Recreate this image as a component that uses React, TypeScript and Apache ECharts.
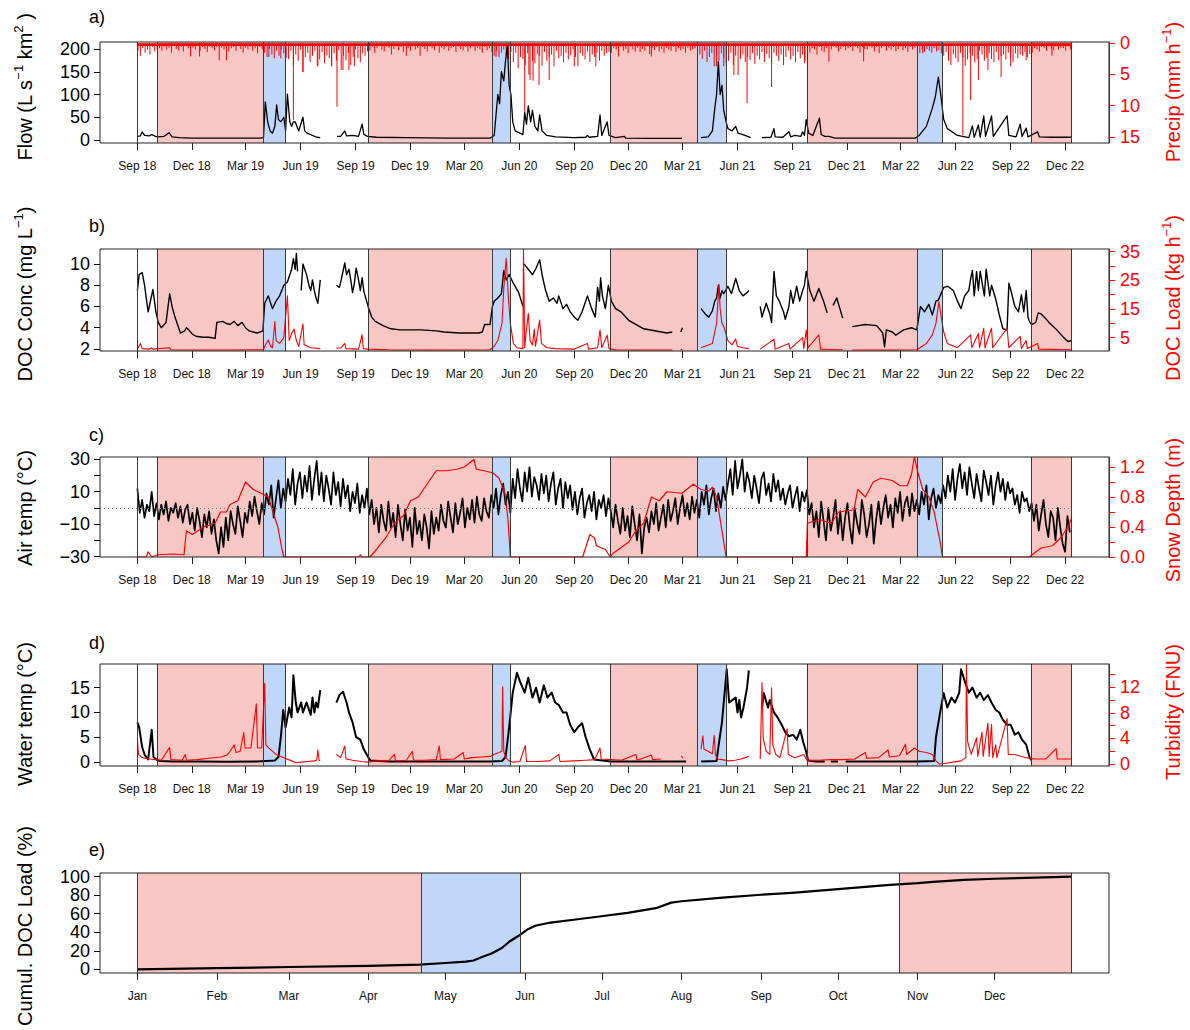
import React, { useEffect, useRef } from 'react';
import * as echarts from 'echarts';

const FONT = '"Liberation Sans", Arial, Helvetica, sans-serif';
const BLACK = '#000000';
const RED = '#ff0000';
const PINK = '#f8c6c3';
const BLUE = '#c1d7fa';
const EDGE = '#3a3a3a';

// ---------- time axis (panels a–d): day offsets from ORIGIN ----------
const ORIGIN = '2018-09-01';
const xTickDates = ['2018-09-01', '2018-12-01', '2019-03-01', '2019-06-01', '2019-09-01', '2019-12-01', '2020-03-01', '2020-06-01', '2020-09-01', '2020-12-01', '2021-03-01', '2021-06-01', '2021-09-01', '2021-12-01', '2022-03-01', '2022-06-01', '2022-09-01', '2022-12-01'];
const xTickLabels = ['Sep 18', 'Dec 18', 'Mar 19', 'Jun 19', 'Sep 19', 'Dec 19', 'Mar 20', 'Jun 20', 'Sep 20', 'Dec 20', 'Mar 21', 'Jun 21', 'Sep 21', 'Dec 21', 'Mar 22', 'Jun 22', 'Sep 22', 'Dec 22'];

const seasonBreaks = ['2018-09-01', '2018-10-05', '2019-03-31', '2019-05-06', '2019-09-23', '2020-04-16', '2020-05-17', '2020-10-31', '2021-03-26', '2021-05-13', '2021-09-25', '2022-03-29', '2022-05-10', '2022-10-05', '2022-12-12'];
const winterPeriods = [['2018-10-05', '2019-03-31'], ['2019-09-23', '2020-04-16'], ['2020-10-31', '2021-03-26'], ['2021-09-25', '2022-03-29'], ['2022-10-05', '2022-12-12']];
const meltPeriods = [['2019-03-31', '2019-05-06'], ['2020-04-16', '2020-05-17'], ['2021-03-26', '2021-05-13'], ['2022-03-29', '2022-05-10']];

// ---------- panel a ----------
const flow = [[0, 8], [5, 9], [8, 18], [12, 10], [20, 9], [24, 12], [30, 8], [34, 7], [45, 8], [53, 16], [58, 7], [70, 5], [91, 4], [150, 4], [206, 4], [211, 5], [214, 84], [218, 40], [222, 20], [226, 15], [230, 30], [233, 77], [236, 45], [240, 40], [245, 50], [248, 20], [251, 101], [255, 40], [258, 30], [261, 40], [264, 40], [270, 20], [277, 50], [280, 20], [284, 15], [290, 12], [300, 6], [306, 5], [320, null], [334, 8], [340, 8], [347, 20], [350, 9], [360, 10], [370, 8], [376, 35], [379, 12], [385, 8], [400, 6], [450, 5], [520, 4], [590, 4], [597, 10], [603, 100], [606, 80], [609, 150], [613, 130], [616, 175], [619, 207], [622, 120], [625, 100], [628, 40], [632, 20], [640, 15], [645, 12], [648, 60], [651, 35], [654, 75], [658, 40], [661, 65], [665, 30], [670, 20], [673, 55], [677, 20], [685, 10], [700, 7], [731, 5], [750, 6], [753, 10], [756, 6], [770, 8], [774, 55], [777, 10], [786, 40], [789, 10], [800, 5], [815, 8], [817, 4], [860, 3.5], [911, 3.5], [925, null], [943, 5], [955, 7], [962, 20], [966, 70], [969, 100], [972, 172], [975, 100], [978, 120], [981, 65], [985, 40], [988, 25], [995, 20], [1001, 30], [1005, 15], [1013, 12], [1026, 5], [1035, null], [1045, 5], [1060, 6], [1065, 25], [1067, 7], [1080, 6], [1090, 18], [1093, 7], [1100, 10], [1110, 8], [1113, 18], [1116, 10], [1119, 45], [1123, 15], [1130, 10], [1141, 48], [1144, 12], [1150, 8], [1157, 8], [1167, 4], [1250, 4], [1301, 4], [1308, 10], [1320, 30], [1330, 70], [1335, 95], [1340, 138], [1344, 100], [1349, 45], [1355, 25], [1372, 10], [1391, 5], [1397, 31], [1400, 6], [1407, 33], [1410, 6], [1416, 53], [1419, 8], [1429, 53], [1432, 8], [1455, 53], [1458, 10], [1470, 7], [1477, 35], [1480, 8], [1487, 26], [1490, 7], [1506, 18], [1509, 7], [1530, 6], [1563, 6]];

// background precipitation, one value every PRECIP_STEP days from day 0
const PRECIP_STEP = 4;
const precipBackground = [
  1.2, 2.0, 0.8, 1.5, 1.0, 1.8, 0.6, 1.3, 0.9,
  0.8, 1.2, 0.5, 1.0, 0.7, 1.5, 0.4, 0.9, 1.1, 0.6, 1.3, 0.5, 0.8, 2.1, 0.7, 1.0, 0.4, 1.2, 0.6, 0.9, 1.4, 0.5, 0.8, 1.1, 0.6, 2.7, 0.7, 1.0, 0.5, 1.3, 0.8, 0.6, 1.2, 0.4, 0.9, 1.5, 0.7, 1.0, 0.5, 1.2, 0.8, 1.6, 0.6, 1.0,
  1.5, 2.2, 0.9, 1.8, 2.4, 1.2, 2.0, 1.0, 1.6, 2.3,
  2.5, 1.2, 3.5, 1.8, 2.8, 1.0, 4.6, 2.2, 1.5, 3.0, 2.0, 1.2, 3.7, 2.6, 1.4, 3.2, 1.9, 2.4, 3.7, 1.6, 2.8, 1.1, 4.3, 2.0, 2.7, 1.5, 3.5, 2.2, 1.0, 2.4, 3.0, 1.6, 2.0, 1.3,
  1.2, 0.6, 1.5, 0.8, 0.4, 1.0, 1.3, 0.5, 0.7, 1.8, 0.9, 0.5, 1.1, 0.6, 1.4, 0.4, 0.8, 1.2, 0.5, 1.0, 0.7, 2.0, 0.6, 0.9, 1.3, 0.5, 0.8, 1.1, 0.4, 1.5, 0.7, 1.0, 0.5, 1.2, 0.8, 0.6, 1.4, 0.5, 0.9, 1.1, 0.6, 1.3, 0.8, 0.5, 1.2, 0.7, 1.0, 1.5, 0.6, 1.1, 0.8, 1.4,
  2.0, 1.2, 2.2, 1.5, 1.0, 1.8, 2.5, 1.4,
  3.0, 1.5, 4.0, 2.2, 2.5, 3.5, 1.6, 5.9, 2.8, 3.2, 1.8, 2.0, 3.6, 1.4, 2.8, 2.2, 1.8, 3.7, 1.2, 2.4, 2.0, 3.0, 1.5, 2.6, 1.9, 1.0, 2.2, 3.7, 1.6, 2.0, 2.6, 1.3, 3.0, 1.8, 2.2, 1.5, 2.8, 1.2, 2.0, 1.6, 1.4,
  1.5, 0.8, 1.0, 2.1, 0.6, 1.2, 0.9, 1.6, 0.5, 1.0, 1.3, 0.7, 1.4, 0.9, 1.2, 0.5, 1.7, 0.8, 1.1, 0.6, 1.3, 0.9, 1.5, 0.7, 1.0, 1.2, 0.6, 1.4, 0.8, 1.1, 0.9, 1.5, 0.7, 1.2, 1.0, 0.8, 1.3,
  1.8, 2.5, 1.2, 3.0, 2.2, 1.5, 3.7, 2.0, 2.8, 1.6, 2.4, 3.2,
  2.8, 1.5, 3.5, 2.0, 5.1, 2.5, 1.8, 3.0, 2.2, 2.7, 1.6, 3.3, 2.0, 2.6, 1.4, 3.0, 1.7, 2.4, 3.2, 1.5, 2.0, 2.8, 1.8, 3.5, 2.2, 1.2, 2.6, 2.0, 3.0, 1.4, 2.4, 1.8, 2.8, 3.2,
  1.5, 0.8, 1.0, 1.8, 0.6, 1.2, 1.4, 0.7, 2.9, 1.0, 0.5, 0.7, 1.3, 0.9, 0.6, 1.1, 0.8, 0.6, 1.2, 0.5, 0.8, 1.5, 0.6, 0.9, 1.0, 0.5, 0.7, 1.3, 0.6, 1.6, 0.8, 0.5, 1.2, 0.7, 1.0, 0.6, 1.3, 0.9, 0.5, 1.1, 0.8, 1.4, 0.6, 1.0, 0.7, 1.2,
  1.6, 1.0, 1.4, 0.9, 1.2, 1.5, 0.8, 1.3, 1.1, 1.6,
  2.0, 1.4, 2.8, 3.5, 1.8, 2.4, 3.0, 1.5, 2.2, 3.6, 2.6, 1.6, 2.0, 3.1, 2.5, 1.2, 1.8, 2.8, 2.3, 1.6, 2.5, 3.0, 1.4, 2.7, 2.0, 1.8, 2.6, 1.5, 2.2, 3.0, 1.6, 2.4, 1.8, 2.0, 1.4, 2.2, 1.7,
  1.5, 0.8, 1.0, 1.3, 0.6, 0.8, 1.2, 0.5, 0.9, 1.1, 0.6, 1.0, 0.7, 0.8, 1.2, 0.5, 1.0];
const precipPeaks = [[104, 2.1], [149, 2.7], [220, 2.2], [240, 2.4], [261, 12.3], [277, 4.6], [302, 3.7], [325, 3.7], [334, 10.2], [344, 4.3], [354, 4.3], [363, 3.7], [450, 2.0], [600, 2.2], [648, 11.8], [655, 5.0], [662, 6.0], [672, 6.7], [689, 5.9], [731, 3.7], [767, 3.7], [860, 2.1], [969, 3.7], [981, 3.7], [998, 5.1], [1020, 9.6], [1061, 7.0], [1116, 3.2], [1215, 2.9], [1314, 1.6], [1381, 14.7], [1394, 9.1], [1407, 5.9], [1423, 4.3], [1445, 5.4], [1461, 3.7], [1487, 2.7], [1530, 2.0]];

// ---------- panel b ----------
const docConc = [[0, 7.5], [3, 9.0], [8, 9.2], [12, 8.0], [18, 5.5], [26, 7.6], [31, 5.5], [35, 4.5], [40, 4.0], [48, 4.5], [54, 7.2], [58, 6.0], [63, 5.0], [69, 4.0], [72, 3.5], [79, 3.7], [82, 4.0], [86, 3.8], [92, 3.4], [98, 3.2], [110, 3.1], [120, 3.1], [130, 3.0], [133, 4.5], [143, 4.6], [149, 4.4], [155, 4.3], [162, 4.6], [168, 4.2], [175, 4.5], [181, 4.0], [187, 3.7], [200, 3.5], [210, 3.7], [213, 6.3], [219, 7.0], [226, 5.8], [232, 6.5], [238, 7.0], [245, 8.0], [251, 8.3], [258, 9.5], [261, 10.5], [264, 9.5], [266, 11.0], [268, 9.3], [271, null], [274, 7.5], [277, 10], [283, 9], [287, 8], [290, 7.5], [293, 8.5], [296, 7.5], [299, 6.8], [302, 6.3], [306, 8.5], [320, null],
  [333, 8], [338, 7.8], [341, 8.5], [347, 10.1], [350, 9], [354, 9.5], [357, 8.5], [360, 7.3], [363, 8.2], [366, 9.6], [370, 8.5], [373, 7.5], [376, 8.7], [379, 7.4], [383, 6.6], [387, 5.8], [392, 5.0], [398, 4.6], [411, 4.2], [424, 3.9], [440, 3.8], [475, 3.8], [500, 3.7], [513, 3.6], [539, 3.5], [571, 3.5], [577, 3.6], [581, 4.3], [590, 4.3], [594, 6.0], [597, 6.5], [603, 6.8], [609, 7.2], [613, 9.4], [617, 8.5], [622, 9], [628, 8.3], [638, 7.3], [645, 6.0], [646, null], [647, 10], [654, 9.5], [661, 9], [667, 9.6], [673, 10.4], [677, 9], [683, 7.5], [689, 6.5], [696, 6.8], [702, 6.3], [705, 7], [712, 5.8], [718, 6.2], [724, 5.5], [731, 5.0], [737, 4.7], [744, 5.5], [750, 6.5], [753, 7.0], [760, 5.8], [766, 5.0], [770, 7.8], [773, 6.5], [775, 8.7], [778, 7], [783, 5.8], [788, 8.0], [793, 6.5], [800, 5.8], [809, 5.5], [822, 4.7], [847, 3.9], [886, 3.5], [895, 3.6], [900, null], [909, 3.6], [912, 4.0], [920, null],
  [943, 5.8], [950, 5.3], [956, 5.0], [962, 5.6], [966, 6.5], [969, 6.8], [972, 8.0], [975, 6.8], [978, 7.5], [981, 7.2], [988, 7.9], [994, 7.2], [1001, 8.65], [1007, 7.5], [1013, 7.0], [1020, 7.3], [1023, 7.5], [1030, null],
  [1042, 6], [1045, 5], [1052, 6.3], [1058, 5.3], [1061, 4.5], [1065, 9.3], [1069, 7], [1074, 6.5], [1081, 5.5], [1084, 4.8], [1090, 6], [1093, 7.5], [1097, 6.3], [1103, 7.9], [1108, 6.5], [1113, 7.5], [1116, 8], [1119, 9.3], [1125, 7.5], [1132, 6.5], [1140, 7.7], [1148, 6.5], [1154, 5.4], [1158, null], [1164, 6.1], [1170, 6.8], [1180, 4.9], [1188, null],
  [1196, 4.1], [1218, 4.3], [1237, 4.2], [1247, 3.5], [1250, 2.2], [1253, 3.8], [1263, 3.6], [1269, 3.3], [1282, 3.8], [1295, 4.0], [1304, 3.8], [1310, 6], [1317, 5.5], [1324, 6.2], [1330, 5.2], [1336, 6.5], [1340, 6.6], [1346, 7.4], [1349, 7.8], [1356, 7.9], [1365, 7.5], [1372, 6.5], [1378, 5.8], [1384, 7.0], [1391, 7.5], [1394, 8.6], [1397, 9.4], [1400, 7], [1404, 9.3], [1407, 7.5], [1410, 9.3], [1417, 7.0], [1420, 9.5], [1426, 7], [1429, 8.0], [1436, 6.7], [1442, 5.2], [1448, 3.9], [1455, 3.8], [1458, 8.2], [1461, 7.6], [1468, 6.0], [1474, 5.5], [1479, 7.1], [1483, 5.5], [1487, 7.5], [1490, 5], [1493, 4.5], [1496, 4.3], [1503, 4.5], [1507, 5.4], [1512, 5.3], [1519, 4.9], [1525, 4.5], [1538, 3.8], [1551, 3.0], [1557, 2.7], [1563, 2.8]];

const docLoad = [[0, 1.0], [5, 3.0], [8, 1.2], [20, 1.0], [24, 1.5], [26, 1.0], [54, 1.5], [56, 0.8], [100, 0.7], [150, 0.7], [211, 0.8], [213, 2], [219, 4.2], [223, 2], [226, 1.5], [230, 10.6], [232, 4], [238, 3], [245, 5], [251, 19.6], [254, 4], [258, 6.5], [262, 8], [266, 4], [270, 2], [277, 9.8], [279, 2.5], [290, 1.5], [306, 1.2], [320, null], [333, 1.3], [341, 1.5], [347, 3], [349, 1.2], [370, 1.0], [376, 6], [378, 1.2], [387, 1.0], [420, 0.8], [500, 0.7], [590, 0.8], [597, 2], [603, 4], [610, 10], [613, 22.2], [617, 32.7], [621, 18], [624, 10], [629, 3], [635, 1.5], [645, 1.2], [646, 35.8], [648, 1.5], [650, 6], [654, 13.5], [657, 4], [661, 2.5], [664, 8], [666, 2], [673, 11.2], [676, 3], [685, 1.5], [700, 1.2], [730, 1.0], [753, 3], [755, 1], [770, 1.5], [774, 7.7], [777, 1.5], [786, 5.9], [789, 1.2], [800, 0.8], [850, 0.7], [895, 0.7], [900, null], [909, 0.8], [912, 0.9], [920, null], [943, 1.5], [962, 3], [969, 10], [973, 23.6], [975, 15], [978, 10], [981, 9], [988, 4], [995, 2.5], [1001, 4.5], [1004, 2], [1013, 1.5], [1023, 1.2], [1030, null], [1042, 1.0], [1065, 4.5], [1067, 1.0], [1090, 3], [1092, 1.0], [1113, 5], [1115, 1.2], [1119, 7.7], [1122, 1.5], [1140, 6], [1143, 1.0], [1160, 0.9], [1180, 0.8], [1188, null], [1196, 0.7], [1250, 0.7], [1304, 0.8], [1320, 3], [1330, 6], [1336, 10], [1341, 17.6], [1345, 12], [1349, 7], [1355, 3], [1372, 1.5], [1394, 6], [1396, 1.5], [1407, 6.5], [1409, 1.5], [1416, 8.3], [1418, 1.5], [1429, 8.3], [1431, 1.5], [1455, 8.3], [1458, 1.5], [1477, 5.5], [1479, 1.2], [1487, 4], [1489, 1.2], [1506, 3], [1508, 1.0], [1563, 0.8]];

// ---------- panel c ----------
// air temperature readings every AIR_STEP days from day 0
const AIR_STEP = 4;
const airTemp = [
  12, -3, 5, -6, 2, -2, 10, -5, 3,
  -7, 2, -4, 4, -8, 0, -3, 3, -6, 1, -9, -1, 2, -10, -3,
  -14, 0, -8, -18, -4, -12, -2, -16, -7,
  -20, -28, -12, -24,
  -6, -20, -2, -10, -16, 1, -8, -18, -3,
  -9, 4, -5, 7, -2, -10, 3,
  -4, 9, 2, 14, -6, 6, 17, 0, 12,
  4, 18, 8, 24, 2, 15, 22, 6, 20,
  10, 26, 5, 18, 29, 8, 22,
  4, 20, 12, 2, 22, 8, 16, 1, 18,
  6, 14, -2, 10, 3, 15, -3, 8, 0, 12,
  -4, 5, -10, 0, -15, 2, -8, -14, 4, -12,
  -3, -18, 2, -10, -20, -1, -14, -6, -24, 0, -16, -8,
  -20, -4, -12, -25, -2, -16, -6,
  -14, 2, -8, -12, 4, -6, -15, 3, -10, -3, 6, -12, 0, -7, 5, -9, 7, -4, -8, 6, -2, -6, 8,
  0, 12, -4, 8, 15, 2, 10, -3,
  18, 6, 24, 12, 4, 22, 10, 25, 7, 19, 14, 5, 21, 9,
  20, 4, 15, 22, 2, 12, 18, 0, 16, 6, 14, -1,
  10, -4, 6, 12, -6, 3, 8, -2, 10, -7, 5, 0, 8, -5, 6,
  -2, -12, 2, -8, -16, 0, -14, -5, -18, 1, -10, -20, -4, -28, -12, -6,
  -15, -2, -10, 3, -14, -6, 2, -12, 5, -8, -2, 6, -10, 0, 8, -5, 3, -7, 7, -3, 5,
  -6, 10, 2, 14, -4, 6, 12, -2, 9, 0, 13, 5,
  15, 24, 8, 29, 12, 20, 30, 10, 22, 16,
  6, 20, 12, 3, 18, 22, 8, 15, 4, 21, 10, 17, 5,
  12, 2, 9, 14, 0, 7, 13, -2, 10, 4, 11,
  -4, 3, -12, -2, -18, 4, -8, -20, 0, -14, -6, 5, -16,
  -2, -20, -6, 3, -12, -22, 0, -9, -16, 5, -4, -18, -10, 2, -22, -7,
  4, -10, 0, 8, -6, 2, -12, 6, -3, 10, -8, 3, 7, -5, 9, -2, 5,
  -4, 10, 2, 14, -7, 6, 12, 0, 8, 3,
  14, 6, 20, 10, 24, 5, 18, 27, 12, 22, 8, 25, 15,
  6, 21, 12, 4, 23, 16, 8, 20, 2, 14, 22, 10, 18, 5, 16, 9,
  12, 2, 8, -3, 10, 4, 6, -2,
  3, -8, 2, -14, -4, 5, -10, -18, -2, -6, -20, 0, -12, -22, -27, -5, -15];
const snowDepth = [[0, 0], [15, 0], [18, 0.07], [24, 0], [34, 0.03], [60, 0.04], [78, 0.03], [82, 0.35], [92, 0.3], [111, 0.4], [130, 0.45], [139, 0.6], [149, 0.6], [155, 0.7], [168, 0.75], [181, 1.0], [194, 0.9], [207, 0.85], [219, 0.8], [229, 0.55], [235, 0.4], [242, 0.1], [245, 0], [370, 0], [373, 0.03], [376, 0], [389, 0], [400, 0.1], [415, 0.25], [430, 0.45], [445, 0.55], [457, 0.75], [470, 0.8], [487, 1.0], [500, 1.15], [517, 1.15], [535, 1.17], [547, 1.2], [563, 1.3], [567, 1.17], [580, 1.15], [595, 1.12], [605, 1.05], [615, 0.85], [620, 0.5], [624, 0], [745, 0], [757, 0.3], [765, 0.25], [768, 0.15], [783, 0.1], [791, 0], [796, 0.05], [822, 0.2], [834, 0.35], [847, 0.45], [860, 0.8], [873, 0.75], [886, 0.87], [911, 0.85], [930, 0.97], [943, 0.9], [956, 0.88], [962, 0.93], [969, 0.8], [978, 0.35], [983, 0.1], [985, 0], [1119, 0], [1121, 0.45], [1141, 0.5], [1161, 0.45], [1173, 0.6], [1199, 0.63], [1205, 0.9], [1218, 0.8], [1231, 1.0], [1244, 1.05], [1263, 1.02], [1276, 0.95], [1288, 0.95], [1295, 1.1], [1300, 1.33], [1305, 1.15], [1314, 0.9], [1324, 0.8], [1333, 0.6], [1343, 0.2], [1347, 0], [1493, 0], [1500, 0.05], [1512, 0.12], [1531, 0.15], [1544, 0.25], [1557, 0.4], [1563, 0.52]];

// ---------- panel d ----------
const waterTemp = [[0, 8], [3, 7], [8, 3], [12, 1.5], [18, 0.5], [24, 6.5], [27, 1], [34, 0.3], [40, 0.2], [60, 0.1], [100, 0.1], [150, 0.05], [200, 0.1], [230, 0.3], [236, 1], [240, 5], [244, 10.5], [248, 7], [254, 11], [258, 9], [261, 17.5], [265, 12], [268, 10], [274, 12], [277, 10], [283, 12], [290, 9.5], [293, 13], [296, 10], [299, 12], [302, 11], [306, 14.5], [320, null],
  [333, 12], [338, 13.5], [344, 14.2], [350, 12], [354, 10], [360, 8], [366, 5], [373, 4.5], [379, 2.5], [386, 1], [390, 0.3], [420, 0.1], [590, 0.1], [610, 0.2], [616, 1], [622, 7], [628, 14], [635, 18], [641, 16], [648, 14], [654, 17], [661, 13], [667, 15], [673, 12], [680, 15.5], [686, 13], [693, 14], [699, 12], [705, 11.5], [712, 10], [718, 10], [724, 7.5], [731, 6], [737, 7], [744, 7.8], [750, 5], [757, 2.5], [764, 0.5], [792, 0.1], [918, 0.1], [930, null], [943, 0.1], [969, 0.2], [972, 3], [978, 8], [981, 12], [986, 18.7], [990, 12], [1001, 13], [1004, 10], [1007, 12.5], [1010, 9], [1014, 11], [1017, 13], [1020, 15], [1023, 18.5], [1030, null],
  [1045, 11], [1048, 13.9], [1055, 11], [1058, 12.5], [1065, 10], [1071, 9], [1078, 7.5], [1084, 6], [1090, 5.2], [1097, 5.5], [1103, 4.5], [1109, 6.5], [1114, 4], [1119, 2], [1122, 0.3], [1135, 0.1], [1150, 0.1], [1153, null], [1160, 0.1], [1172, 0.1], [1175, null], [1185, 0.1], [1305, 0.1], [1333, 0.2], [1336, 5], [1343, 10], [1349, 13.9], [1355, 11], [1362, 13], [1368, 12], [1375, 14], [1378, 18.7], [1385, 16], [1391, 14], [1397, 15], [1404, 13], [1410, 14], [1416, 12.5], [1423, 13.5], [1429, 12], [1436, 10.5], [1442, 10], [1448, 8.5], [1455, 7.5], [1461, 7.5], [1468, 5.5], [1474, 6], [1480, 4.5], [1487, 3.5], [1493, 0.8], [1496, 0.3]];

const turbidity = [[0, 3.9], [2, 1.5], [8, 1.0], [20, 0.8], [40, 0.6], [54, 2.6], [56, 0.7], [75, 0.6], [80, 1.5], [82, 0.6], [100, 0.7], [120, 0.9], [140, 1.1], [150, 1.4], [155, 2.0], [162, 3.0], [165, 1.8], [172, 2.0], [178, 4.9], [180, 2.5], [190, 2.5], [199, 9.4], [201, 2.5], [208, 2.5], [213, 12.6], [215, 3], [220, 2.5], [232, 1.5], [245, 1.0], [258, 0.5], [265, 0.2], [274, 0.3], [285, 0.4], [296, 0.5], [300, 0.6], [302, 2.2], [304, 0.6], [306, 0.5], [320, null],
  [333, 1.5], [340, 1], [347, 2.8], [349, 0.8], [360, 0.6], [375, 0.4], [386, 0.3], [400, 0.5], [420, 0.5], [430, 1.5], [432, 0.5], [450, 0.6], [460, 2.0], [462, 0.6], [480, 0.6], [500, 0.7], [505, 2.8], [507, 0.7], [530, 0.8], [545, 1.8], [547, 0.8], [560, 1.0], [575, 1.1], [590, 1.2], [597, 1.5], [605, 1.8], [610, 2.0], [611, 12.0], [613, 2.0], [616, 1.0], [622, 0.5], [629, 0.3], [640, 0.4], [649, 2.9], [651, 0.4], [670, 0.4], [690, 0.5], [705, 1.5], [707, 0.4], [730, 0.5], [750, 0.6], [765, 0.7], [774, 2.5], [776, 0.8], [792, 0.7], [810, 0.6], [834, 1.5], [836, 0.6], [860, 1.4], [862, 0.7], [876, 0.8], [890, null], [910, 1.3], [913, 0.9], [925, null],
  [943, 2.3], [946, 4.4], [948, 2.3], [955, 2.0], [962, 1.6], [965, 4.5], [967, 1.5], [970, 0.8], [978, 0.7], [990, 0.5], [1000, 0.6], [1010, 0.8], [1023, 1.2], [1030, null], [1042, 0.8], [1045, 12.7], [1047, 4], [1052, 2], [1058, 1.5], [1061, 11.9], [1063, 3], [1068, 1.5], [1075, 1.0], [1087, 5.5], [1089, 1.5], [1100, 1.0], [1115, 1.5], [1120, 0.6], [1140, 0.6], [1160, 0.7], [1180, 0.7], [1200, 0.8], [1218, 1.8], [1220, 0.9], [1240, 1.0], [1256, 2.2], [1258, 1.1], [1275, 1.3], [1285, 3.1], [1287, 1.5], [1300, 2.5], [1308, 2.0], [1320, 1.8], [1330, 1.5], [1336, 0.5], [1342, 0.0], [1350, 0.1], [1365, 0.3], [1378, 0.5], [1386, 1.0], [1387, 15.5], [1389, 3.5], [1395, 1.5], [1404, 4.1], [1406, 1.2], [1413, 5], [1415, 1.2], [1423, 6.4], [1425, 1.2], [1429, 6.2], [1431, 1.0], [1436, 3], [1438, 1.0], [1455, 7.1], [1457, 1.5], [1468, 1.5], [1487, 1.0], [1500, 0.8], [1520, 0.8], [1537, 2.4], [1539, 0.8], [1563, 0.8]];

// ---------- panel e (day of year) ----------
const monthLabels = ['Jan', 'Feb', 'Mar', 'Apr', 'May', 'Jun', 'Jul', 'Aug', 'Sep', 'Oct', 'Nov', 'Dec'];
const monthLengths = [31, 28, 31, 30, 31, 30, 31, 31, 30, 31, 30, 31];
const yearBreaks = [0, 110.5, 149.3, 297, 364];
const yearWinter = [[0, 110.5], [297, 364]];
const yearMelt = [[110.5, 149.3]];
const cumDocLoad = [[0, 0], [31, 1.2], [59, 2.5], [90, 3.8], [110, 5], [120, 6.8], [128, 8.2], [131, 9.5], [134, 13], [138, 17], [142, 23], [145, 30], [149, 37], [152, 43], [155, 47], [161, 50.5], [170, 53.5], [180, 57], [191, 61], [202, 66], [208, 72], [212, 73.5], [228, 77.5], [243, 80.5], [255, 82.5], [273, 86.5], [292, 91], [304, 93], [310, 94.5], [322, 96.5], [334, 97.8], [364, 100]];

// ---------- helpers ----------
const dayOf = (s: string) => (Date.parse(s + 'T00:00:00Z') - Date.parse(ORIGIN + 'T00:00:00Z')) / 86400000;
const xTickDays = xTickDates.map(dayOf);
const breakDays = seasonBreaks.map(dayOf);
const DATA_END = breakDays[breakDays.length - 1];
const PAD = 0.04 * (DATA_END - breakDays[0]);
const X_MIN = breakDays[0] - PAD;
const X_MAX = DATA_END + PAD;

const monthStarts: number[] = [];
monthLengths.reduce((acc, len) => { monthStarts.push(acc); return acc + len; }, 0);
const YPAD = 0.04 * (yearBreaks[yearBreaks.length - 1] - yearBreaks[0]);

const fmt = (v: number, dec = 0) => (v < 0 ? '\u2212' : '') + Math.abs(v).toFixed(dec);

const GRID_LEFT = 100;
const GRID_W = 1009;
const TOPS = [42, 249, 457, 664, 873];
const HEIGHTS = [101, 102, 100, 102, 100];

function xAxisDef(grid: number, min: number, max: number, ticks: number[], labels: string[]) {
  return {
    type: 'value', gridIndex: grid, min, max, position: 'bottom',
    axisLine: { show: false, onZero: false },
    axisTick: { show: true, length: 7, customValues: ticks, lineStyle: { color: '#222', width: 1 } },
    axisLabel: {
      show: true, customValues: ticks, fontSize: 12, color: '#111', fontFamily: FONT, margin: 17,
      formatter: (v: number) => { const i = ticks.findIndex(t => Math.abs(t - v) < 0.5); return i >= 0 ? labels[i] : ''; },
    },
    splitLine: { show: false },
  };
}

function yAxisDef(grid: number, side: string, min: number, max: number, ticks: number[], labels: number[], color: string, dec = 0, inverse = false) {
  return {
    type: 'value', gridIndex: grid, position: side, min, max, inverse,
    axisLine: { show: side === 'right', onZero: false, lineStyle: { color, width: 1 } },
    axisTick: { show: true, inside: false, length: 6, customValues: ticks, lineStyle: { color, width: 1 } },
    axisLabel: { show: true, customValues: labels, color, fontSize: 18, fontFamily: FONT, margin: side === 'left' ? 10 : 11, formatter: (v: number) => fmt(v, dec) },
    splitLine: { show: false },
  };
}

function backgroundSeries(xi: number, yi: number, winter: number[][], melt: number[][], breaks: number[]) {
  return {
    type: 'line', xAxisIndex: xi, yAxisIndex: yi, data: [[breaks[0], null]], silent: true, z: 1, showSymbol: false,
    markArea: {
      silent: true,
      data: [
        ...winter.map(p => [{ xAxis: p[0], itemStyle: { color: PINK } }, { xAxis: p[1] }]),
        ...melt.map(p => [{ xAxis: p[0], itemStyle: { color: BLUE } }, { xAxis: p[1] }]),
      ],
    },
    markLine: {
      silent: true, symbol: ['none', 'none'], label: { show: false },
      lineStyle: { color: EDGE, width: 1, type: 'solid' },
      data: breaks.map(b => ({ xAxis: b })),
    },
  };
}

function lineSeries(xi: number, yi: number, data: any[], color: string, width = 1.2, z = 3) {
  return {
    type: 'line', xAxisIndex: xi, yAxisIndex: yi, data, showSymbol: false, symbol: 'none', connectNulls: false,
    lineStyle: { color, width, join: 'round' }, itemStyle: { color }, z, silent: true,
  };
}

function supTitle(parts: [string, boolean][]) {
  return parts.map(([t, sup]) => `{${sup ? 's' : 'n'}|${t}}`).join('');
}

function titleEl(x: number, y: number, parts: [string, boolean][], color: string) {
  return {
    type: 'text', x, y, rotation: Math.PI / 2, z: 100, silent: true,
    style: {
      text: supTitle(parts), align: 'center', verticalAlign: 'middle', fill: color,
      fontFamily: FONT, fontSize: 20,
      rich: {
        n: { fontSize: 20, lineHeight: 26, fill: color, fontFamily: FONT },
        s: { fontSize: 13, lineHeight: 13, verticalAlign: 'top', fill: color, fontFamily: FONT },
      },
    },
  };
}

function buildOption() {
  const winterDays = winterPeriods.map(p => p.map(dayOf));
  const meltDays = meltPeriods.map(p => p.map(dayOf));

  const grids = TOPS.map((t, i) => ({ left: GRID_LEFT, top: t, width: GRID_W, height: HEIGHTS[i], show: false, containLabel: false }));

  const xAxes = [0, 1, 2, 3].map(g => xAxisDef(g, X_MIN, X_MAX, xTickDays, xTickLabels));
  xAxes.push(xAxisDef(4, yearBreaks[0] - YPAD, yearBreaks[yearBreaks.length - 1] + YPAD, monthStarts, monthLabels));

  const yAxes = [
    yAxisDef(0, 'left', -6.6, 215.4, [0, 50, 100, 150, 200], [0, 50, 100, 150, 200], BLACK),
    yAxisDef(0, 'right', -0.21, 16.0, [0, 5, 10, 15], [0, 5, 10, 15], RED, 0, true),
    yAxisDef(1, 'left', 1.81, 11.41, [2, 4, 6, 8, 10], [2, 4, 6, 8, 10], BLACK),
    yAxisDef(1, 'right', 0.36, 35.94, [5, 10, 15, 20, 25, 30, 35], [5, 15, 25, 35], RED),
    yAxisDef(2, 'left', -30.2, 31.4, [-30, -20, -10, 0, 10, 20, 30], [-30, -10, 10, 30], BLACK),
    yAxisDef(2, 'right', 0, 1.333, [0, 0.2, 0.4, 0.6, 0.8, 1.0, 1.2], [0, 0.4, 0.8, 1.2], RED, 1),
    yAxisDef(3, 'left', -0.81, 19.78, [0, 5, 10, 15], [0, 5, 10, 15], BLACK),
    yAxisDef(3, 'right', -0.3, 15.6, [0, 2, 4, 6, 8, 10, 12, 14], [0, 4, 8, 12], RED),
    yAxisDef(4, 'left', -4, 104, [0, 20, 40, 60, 80, 100], [0, 20, 40, 60, 80, 100], BLACK),
  ];

  const precipData = [
    ...precipBackground.map((v, i) => [i * PRECIP_STEP + 1, v]),
    ...precipPeaks,
  ];
  const airData = airTemp.map((v, i) => [i * AIR_STEP, v]);

  const series: any[] = [
    // panel a
    backgroundSeries(0, 0, winterDays, meltDays, breakDays),
    {
      type: 'bar', xAxisIndex: 0, yAxisIndex: 1, data: precipData, barWidth: 1, z: 3, silent: true,
      itemStyle: { color: RED },
      markArea: { silent: true, data: [[{ coord: [breakDays[0], 0], itemStyle: { color: RED } }, { coord: [DATA_END, 0.45] }]] },
    },
    lineSeries(0, 0, flow, BLACK, 1.3, 4),
    // panel b
    backgroundSeries(1, 2, winterDays, meltDays, breakDays),
    lineSeries(1, 2, docConc, BLACK, 1.4, 3),
    lineSeries(1, 3, docLoad, RED, 1.1, 4),
    // panel c
    backgroundSeries(2, 4, winterDays, meltDays, breakDays),
    {
      type: 'line', xAxisIndex: 2, yAxisIndex: 4, data: [[0, null]], silent: true, z: 2, showSymbol: false,
      markLine: {
        silent: true, symbol: ['none', 'none'], label: { show: false },
        lineStyle: { color: '#777', width: 1, type: [1, 3] },
        data: [[{ coord: [X_MIN, 0] }, { coord: [DATA_END, 0] }]],
      },
    },
    lineSeries(2, 4, airData, BLACK, 1.7, 3),
    lineSeries(2, 5, snowDepth, RED, 1.2, 4),
    // panel d
    backgroundSeries(3, 6, winterDays, meltDays, breakDays),
    lineSeries(3, 6, waterTemp, BLACK, 2, 3),
    lineSeries(3, 7, turbidity, RED, 1.1, 4),
    // panel e
    backgroundSeries(4, 8, yearWinter, yearMelt, yearBreaks),
    lineSeries(4, 8, cumDocLoad, BLACK, 2.2, 3),
  ];

  const labels = ['a)', 'b)', 'c)', 'd)', 'e)'];
  const labelY = [17, 226, 435, 643, 850];
  const graphics: any[] = [];
  TOPS.forEach((t, i) => {
    graphics.push({
      type: 'rect', silent: true, z: 90,
      shape: { x: GRID_LEFT, y: t, width: GRID_W, height: HEIGHTS[i] },
      style: { fill: 'none', stroke: '#222', lineWidth: 1 },
    });
    graphics.push({
      type: 'text', x: 89, y: labelY[i], z: 100, silent: true,
      style: { text: labels[i], fontSize: 18, fontFamily: FONT, fill: '#000', align: 'left', verticalAlign: 'middle' },
    });
  });
  graphics.push(titleEl(25, 87, [['Flow (L s', false], ['\u22121', true], [' km', false], ['2', true], [' )', false]], BLACK));
  graphics.push(titleEl(1173, 92, [['Precip (mm h', false], ['\u22121', true], [')', false]], RED));
  graphics.push(titleEl(25, 294, [['DOC Conc (mg L', false], ['\u22121', true], [')', false]], BLACK));
  graphics.push(titleEl(1173, 298, [['DOC Load (kg h', false], ['\u22121', true], [')', false]], RED));
  graphics.push(titleEl(25, 508, [['Air temp (\u00B0C)', false]], BLACK));
  graphics.push(titleEl(1173, 510, [['Snow Depth (m)', false]], RED));
  graphics.push(titleEl(25, 714, [['Water temp (\u00B0C)', false]], BLACK));
  graphics.push(titleEl(1173, 712, [['Turbidity (FNU)', false]], RED));
  graphics.push(titleEl(25, 926, [['Cumul. DOC Load (%)', false]], BLACK));

  return {
    animation: false,
    backgroundColor: '#ffffff',
    textStyle: { fontFamily: FONT },
    grid: grids,
    xAxis: xAxes,
    yAxis: yAxes,
    series,
    graphic: graphics,
  };
}

export default function App() {
  const ref = useRef<HTMLDivElement>(null);
  useEffect(() => {
    if (!ref.current) return;
    const chart = echarts.init(ref.current, null, { renderer: 'svg' });
    chart.setOption(buildOption() as any);
    return () => chart.dispose();
  }, []);
  return (
    <div
      ref={ref}
      style={{ position: 'absolute', left: 0, top: 0, width: 1190, height: 1030, background: '#fff' }}
    />
  );
}
